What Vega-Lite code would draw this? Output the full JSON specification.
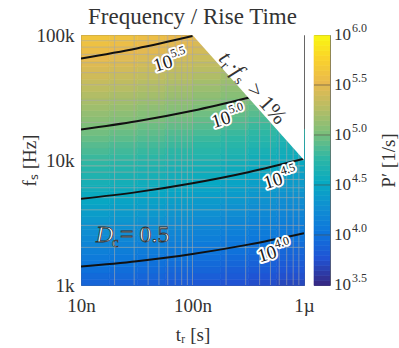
{
"$schema":"https://vega.github.io/schema/vega-lite/v6.json",
"padding":{"left":19,"top":5,"right":1,"bottom":0},
"background":"white",
"bounds":"flush",
"spacing":10,
"config":{
"font":"Liberation Serif",
"view":{"stroke":"#666","strokeWidth":1},
"axis":{"labelFont":"Liberation Serif","titleFont":"Liberation Serif","labelColor":"#333","titleColor":"#333","labelFontSize":19,"titleFontSize":19,"titleFontWeight":"normal","grid":false,"ticks":false,"domain":false},
"title":{"font":"Liberation Serif","fontSize":23,"fontWeight":"normal","color":"#333"}
},
"datasets":{
"cells":[
{"t":-8,"f":3,"p":3.88},{"t":-8,"f":3.05,"p":3.92},{"t":-8,"f":3.1,"p":3.97},{"t":-8,"f":3.15,"p":4.02},{"t":-8,"f":3.2,"p":4.06},{"t":-8,"f":3.25,"p":4.11},{"t":-8,"f":3.3,"p":4.16},{"t":-8,"f":3.35,"p":4.2},{"t":-8,"f":3.4,"p":4.25},{"t":-8,"f":3.45,"p":4.29},{"t":-8,"f":3.5,"p":4.34},{"t":-8,"f":3.55,"p":4.39},{"t":-8,"f":3.6,"p":4.43},{"t":-8,"f":3.65,"p":4.48},{"t":-8,"f":3.7,"p":4.52},{"t":-8,"f":3.75,"p":4.57},{"t":-8,"f":3.8,"p":4.61},{"t":-8,"f":3.85,"p":4.66},{"t":-8,"f":3.9,"p":4.7},{"t":-8,"f":3.95,"p":4.75},{"t":-8,"f":4,"p":4.79},{"t":-8,"f":4.05,"p":4.84},{"t":-8,"f":4.1,"p":4.88},{"t":-8,"f":4.15,"p":4.93},{"t":-8,"f":4.2,"p":4.97},{"t":-8,"f":4.25,"p":5.01},{"t":-8,"f":4.3,"p":5.06},{"t":-8,"f":4.35,"p":5.1},{"t":-8,"f":4.4,"p":5.15},{"t":-8,"f":4.45,"p":5.19},{"t":-8,"f":4.5,"p":5.23},{"t":-8,"f":4.55,"p":5.28},{"t":-8,"f":4.6,"p":5.32},{"t":-8,"f":4.65,"p":5.37},{"t":-8,"f":4.7,"p":5.41},{"t":-8,"f":4.75,"p":5.45},{"t":-8,"f":4.8,"p":5.5},{"t":-8,"f":4.85,"p":5.54},{"t":-8,"f":4.9,"p":5.58},{"t":-8,"f":4.95,"p":5.62},
{"t":-7.75,"f":3,"p":3.86},{"t":-7.75,"f":3.05,"p":3.91},{"t":-7.75,"f":3.1,"p":3.95},{"t":-7.75,"f":3.15,"p":4},{"t":-7.75,"f":3.2,"p":4.04},{"t":-7.75,"f":3.25,"p":4.09},{"t":-7.75,"f":3.3,"p":4.14},{"t":-7.75,"f":3.35,"p":4.18},{"t":-7.75,"f":3.4,"p":4.23},{"t":-7.75,"f":3.45,"p":4.27},{"t":-7.75,"f":3.5,"p":4.32},{"t":-7.75,"f":3.55,"p":4.36},{"t":-7.75,"f":3.6,"p":4.41},{"t":-7.75,"f":3.65,"p":4.45},{"t":-7.75,"f":3.7,"p":4.5},{"t":-7.75,"f":3.75,"p":4.54},{"t":-7.75,"f":3.8,"p":4.59},{"t":-7.75,"f":3.85,"p":4.63},{"t":-7.75,"f":3.9,"p":4.68},{"t":-7.75,"f":3.95,"p":4.72},{"t":-7.75,"f":4,"p":4.77},{"t":-7.75,"f":4.05,"p":4.81},{"t":-7.75,"f":4.1,"p":4.85},{"t":-7.75,"f":4.15,"p":4.9},{"t":-7.75,"f":4.2,"p":4.94},{"t":-7.75,"f":4.25,"p":4.99},{"t":-7.75,"f":4.3,"p":5.03},{"t":-7.75,"f":4.35,"p":5.07},{"t":-7.75,"f":4.4,"p":5.12},{"t":-7.75,"f":4.45,"p":5.16},{"t":-7.75,"f":4.5,"p":5.2},{"t":-7.75,"f":4.55,"p":5.25},{"t":-7.75,"f":4.6,"p":5.29},{"t":-7.75,"f":4.65,"p":5.33},{"t":-7.75,"f":4.7,"p":5.38},{"t":-7.75,"f":4.75,"p":5.42},{"t":-7.75,"f":4.8,"p":5.46},{"t":-7.75,"f":4.85,"p":5.5},{"t":-7.75,"f":4.9,"p":5.55},{"t":-7.75,"f":4.95,"p":5.59},
{"t":-7.5,"f":3,"p":3.84},{"t":-7.5,"f":3.05,"p":3.88},{"t":-7.5,"f":3.1,"p":3.93},{"t":-7.5,"f":3.15,"p":3.97},{"t":-7.5,"f":3.2,"p":4.02},{"t":-7.5,"f":3.25,"p":4.07},{"t":-7.5,"f":3.3,"p":4.11},{"t":-7.5,"f":3.35,"p":4.16},{"t":-7.5,"f":3.4,"p":4.2},{"t":-7.5,"f":3.45,"p":4.25},{"t":-7.5,"f":3.5,"p":4.29},{"t":-7.5,"f":3.55,"p":4.34},{"t":-7.5,"f":3.6,"p":4.38},{"t":-7.5,"f":3.65,"p":4.43},{"t":-7.5,"f":3.7,"p":4.47},{"t":-7.5,"f":3.75,"p":4.51},{"t":-7.5,"f":3.8,"p":4.56},{"t":-7.5,"f":3.85,"p":4.6},{"t":-7.5,"f":3.9,"p":4.65},{"t":-7.5,"f":3.95,"p":4.69},{"t":-7.5,"f":4,"p":4.73},{"t":-7.5,"f":4.05,"p":4.78},{"t":-7.5,"f":4.1,"p":4.82},{"t":-7.5,"f":4.15,"p":4.87},{"t":-7.5,"f":4.2,"p":4.91},{"t":-7.5,"f":4.25,"p":4.95},{"t":-7.5,"f":4.3,"p":5},{"t":-7.5,"f":4.35,"p":5.04},{"t":-7.5,"f":4.4,"p":5.08},{"t":-7.5,"f":4.45,"p":5.13},{"t":-7.5,"f":4.5,"p":5.17},{"t":-7.5,"f":4.55,"p":5.21},{"t":-7.5,"f":4.6,"p":5.25},{"t":-7.5,"f":4.65,"p":5.3},{"t":-7.5,"f":4.7,"p":5.34},{"t":-7.5,"f":4.75,"p":5.38},{"t":-7.5,"f":4.8,"p":5.42},{"t":-7.5,"f":4.85,"p":5.47},{"t":-7.5,"f":4.9,"p":5.51},{"t":-7.5,"f":4.95,"p":5.55},
{"t":-7.25,"f":3,"p":3.81},{"t":-7.25,"f":3.05,"p":3.86},{"t":-7.25,"f":3.1,"p":3.9},{"t":-7.25,"f":3.15,"p":3.95},{"t":-7.25,"f":3.2,"p":3.99},{"t":-7.25,"f":3.25,"p":4.04},{"t":-7.25,"f":3.3,"p":4.08},{"t":-7.25,"f":3.35,"p":4.13},{"t":-7.25,"f":3.4,"p":4.17},{"t":-7.25,"f":3.45,"p":4.22},{"t":-7.25,"f":3.5,"p":4.26},{"t":-7.25,"f":3.55,"p":4.31},{"t":-7.25,"f":3.6,"p":4.35},{"t":-7.25,"f":3.65,"p":4.4},{"t":-7.25,"f":3.7,"p":4.44},{"t":-7.25,"f":3.75,"p":4.48},{"t":-7.25,"f":3.8,"p":4.53},{"t":-7.25,"f":3.85,"p":4.57},{"t":-7.25,"f":3.9,"p":4.61},{"t":-7.25,"f":3.95,"p":4.66},{"t":-7.25,"f":4,"p":4.7},{"t":-7.25,"f":4.05,"p":4.74},{"t":-7.25,"f":4.1,"p":4.79},{"t":-7.25,"f":4.15,"p":4.83},{"t":-7.25,"f":4.2,"p":4.87},{"t":-7.25,"f":4.25,"p":4.92},{"t":-7.25,"f":4.3,"p":4.96},{"t":-7.25,"f":4.35,"p":5},{"t":-7.25,"f":4.4,"p":5.05},{"t":-7.25,"f":4.45,"p":5.09},{"t":-7.25,"f":4.5,"p":5.13},{"t":-7.25,"f":4.55,"p":5.17},{"t":-7.25,"f":4.6,"p":5.22},{"t":-7.25,"f":4.65,"p":5.26},{"t":-7.25,"f":4.7,"p":5.3},{"t":-7.25,"f":4.75,"p":5.34},{"t":-7.25,"f":4.8,"p":5.38},{"t":-7.25,"f":4.85,"p":5.43},{"t":-7.25,"f":4.9,"p":5.47},{"t":-7.25,"f":4.95,"p":5.51},
{"t":-7,"f":3,"p":3.79},{"t":-7,"f":3.05,"p":3.83},{"t":-7,"f":3.1,"p":3.88},{"t":-7,"f":3.15,"p":3.92},{"t":-7,"f":3.2,"p":3.96},{"t":-7,"f":3.25,"p":4.01},{"t":-7,"f":3.3,"p":4.05},{"t":-7,"f":3.35,"p":4.1},{"t":-7,"f":3.4,"p":4.14},{"t":-7,"f":3.45,"p":4.19},{"t":-7,"f":3.5,"p":4.23},{"t":-7,"f":3.55,"p":4.27},{"t":-7,"f":3.6,"p":4.32},{"t":-7,"f":3.65,"p":4.36},{"t":-7,"f":3.7,"p":4.41},{"t":-7,"f":3.75,"p":4.45},{"t":-7,"f":3.8,"p":4.49},{"t":-7,"f":3.85,"p":4.54},{"t":-7,"f":3.9,"p":4.58},{"t":-7,"f":3.95,"p":4.62},{"t":-7,"f":4,"p":4.67},{"t":-7,"f":4.05,"p":4.71},{"t":-7,"f":4.1,"p":4.75},{"t":-7,"f":4.15,"p":4.79},{"t":-7,"f":4.2,"p":4.84},{"t":-7,"f":4.25,"p":4.88},{"t":-7,"f":4.3,"p":4.92},{"t":-7,"f":4.35,"p":4.96},{"t":-7,"f":4.4,"p":5.01},{"t":-7,"f":4.45,"p":5.05},{"t":-7,"f":4.5,"p":5.09},{"t":-7,"f":4.55,"p":5.13},{"t":-7,"f":4.6,"p":5.17},{"t":-7,"f":4.65,"p":5.22},{"t":-7,"f":4.7,"p":5.26},{"t":-7,"f":4.75,"p":5.3},{"t":-7,"f":4.8,"p":5.34},{"t":-7,"f":4.85,"p":5.38},{"t":-7,"f":4.9,"p":5.42},{"t":-7,"f":4.95,"p":5.46},
{"t":-6.75,"f":3,"p":3.75},{"t":-6.75,"f":3.05,"p":3.8},{"t":-6.75,"f":3.1,"p":3.84},{"t":-6.75,"f":3.15,"p":3.89},{"t":-6.75,"f":3.2,"p":3.93},{"t":-6.75,"f":3.25,"p":3.98},{"t":-6.75,"f":3.3,"p":4.02},{"t":-6.75,"f":3.35,"p":4.06},{"t":-6.75,"f":3.4,"p":4.11},{"t":-6.75,"f":3.45,"p":4.15},{"t":-6.75,"f":3.5,"p":4.19},{"t":-6.75,"f":3.55,"p":4.24},{"t":-6.75,"f":3.6,"p":4.28},{"t":-6.75,"f":3.65,"p":4.33},{"t":-6.75,"f":3.7,"p":4.37},{"t":-6.75,"f":3.75,"p":4.41},{"t":-6.75,"f":3.8,"p":4.45},{"t":-6.75,"f":3.85,"p":4.5},{"t":-6.75,"f":3.9,"p":4.54},{"t":-6.75,"f":3.95,"p":4.58},{"t":-6.75,"f":4,"p":4.63},{"t":-6.75,"f":4.05,"p":4.67},{"t":-6.75,"f":4.1,"p":4.71},{"t":-6.75,"f":4.15,"p":4.75},{"t":-6.75,"f":4.2,"p":4.79},{"t":-6.75,"f":4.25,"p":4.84},{"t":-6.75,"f":4.3,"p":4.88},{"t":-6.75,"f":4.35,"p":4.92},{"t":-6.75,"f":4.4,"p":4.96},{"t":-6.75,"f":4.45,"p":5},{"t":-6.75,"f":4.5,"p":5.05},{"t":-6.75,"f":4.55,"p":5.09},{"t":-6.75,"f":4.6,"p":5.13},{"t":-6.75,"f":4.65,"p":5.17},{"t":-6.75,"f":4.7,"p":5.21},
{"t":-6.5,"f":3,"p":3.72},{"t":-6.5,"f":3.05,"p":3.76},{"t":-6.5,"f":3.1,"p":3.81},{"t":-6.5,"f":3.15,"p":3.85},{"t":-6.5,"f":3.2,"p":3.9},{"t":-6.5,"f":3.25,"p":3.94},{"t":-6.5,"f":3.3,"p":3.98},{"t":-6.5,"f":3.35,"p":4.03},{"t":-6.5,"f":3.4,"p":4.07},{"t":-6.5,"f":3.45,"p":4.11},{"t":-6.5,"f":3.5,"p":4.16},{"t":-6.5,"f":3.55,"p":4.2},{"t":-6.5,"f":3.6,"p":4.24},{"t":-6.5,"f":3.65,"p":4.29},{"t":-6.5,"f":3.7,"p":4.33},{"t":-6.5,"f":3.75,"p":4.37},{"t":-6.5,"f":3.8,"p":4.41},{"t":-6.5,"f":3.85,"p":4.46},{"t":-6.5,"f":3.9,"p":4.5},{"t":-6.5,"f":3.95,"p":4.54},{"t":-6.5,"f":4,"p":4.58},{"t":-6.5,"f":4.05,"p":4.62},{"t":-6.5,"f":4.1,"p":4.67},{"t":-6.5,"f":4.15,"p":4.71},{"t":-6.5,"f":4.2,"p":4.75},{"t":-6.5,"f":4.25,"p":4.79},{"t":-6.5,"f":4.3,"p":4.83},{"t":-6.5,"f":4.35,"p":4.88},{"t":-6.5,"f":4.4,"p":4.92},{"t":-6.5,"f":4.45,"p":4.96},
{"t":-6.25,"f":3,"p":3.68},{"t":-6.25,"f":3.05,"p":3.73},{"t":-6.25,"f":3.1,"p":3.77},{"t":-6.25,"f":3.15,"p":3.81},{"t":-6.25,"f":3.2,"p":3.86},{"t":-6.25,"f":3.25,"p":3.9},{"t":-6.25,"f":3.3,"p":3.94},{"t":-6.25,"f":3.35,"p":3.99},{"t":-6.25,"f":3.4,"p":4.03},{"t":-6.25,"f":3.45,"p":4.07},{"t":-6.25,"f":3.5,"p":4.12},{"t":-6.25,"f":3.55,"p":4.16},{"t":-6.25,"f":3.6,"p":4.2},{"t":-6.25,"f":3.65,"p":4.24},{"t":-6.25,"f":3.7,"p":4.29},{"t":-6.25,"f":3.75,"p":4.33},{"t":-6.25,"f":3.8,"p":4.37},{"t":-6.25,"f":3.85,"p":4.41},{"t":-6.25,"f":3.9,"p":4.45},{"t":-6.25,"f":3.95,"p":4.5},{"t":-6.25,"f":4,"p":4.54},{"t":-6.25,"f":4.05,"p":4.58},{"t":-6.25,"f":4.1,"p":4.62},{"t":-6.25,"f":4.15,"p":4.66},{"t":-6.25,"f":4.2,"p":4.7}
],
"gx":[{"t":-7.699},{"t":-7.523},{"t":-7.398},{"t":-7.301},{"t":-7.222},{"t":-7.155},{"t":-7.097},{"t":-7.046},{"t":-7},{"t":-6.699},{"t":-6.523},{"t":-6.398},{"t":-6.301},{"t":-6.222},{"t":-6.155},{"t":-6.097},{"t":-6.046}],
"gy":[{"f":3.301},{"f":3.477},{"f":3.602},{"f":3.699},{"f":3.778},{"f":3.845},{"f":3.903},{"f":3.954},{"f":4},{"f":4.301},{"f":4.477},{"f":4.602},{"f":4.699},{"f":4.778},{"f":4.845},{"f":4.903},{"f":4.954}],
"contours":[
{"lv":"4.0","t":-8,"f":3.147},{"lv":"4.0","t":-7.5,"f":3.19},{"lv":"4.0","t":-7,"f":3.248},{"lv":"4.0","t":-6.5,"f":3.323},{"lv":"4.0","t":-6,"f":3.415},
{"lv":"4.5","t":-8,"f":3.689},{"lv":"4.5","t":-7.5,"f":3.743},{"lv":"4.5","t":-7,"f":3.814},{"lv":"4.5","t":-6.5,"f":3.902},{"lv":"4.5","t":-6,"f":4.01},
{"lv":"5.0","t":-8,"f":4.244},{"lv":"5.0","t":-7.5,"f":4.31},{"lv":"5.0","t":-7,"f":4.394},{"lv":"5.0","t":-6.5,"f":4.498},{"lv":"5.0","t":-6.45,"f":4.509},
{"lv":"5.5","t":-8,"f":4.8125},{"lv":"5.5","t":-7.5,"f":4.8925},{"lv":"5.5","t":-7,"f":4.9915}
],
"limit":[{"t":-7,"f":5},{"t":-6,"f":4}],
"clab":[{"t":-7.265,"f":4.772,"e":"5.5"},{"t":-6.744,"f":4.323,"e":"5.0"},{"t":-6.278,"f":3.834,"e":"4.5"},{"t":-6.332,"f":3.248,"e":"4.0"}],
"dc":[{"t":-7.865,"f":3.401}],
"ltxt":[{"t":-6.726,"f":4.844}],
"cbar":[{"cb":3.5},{"cb":3.55},{"cb":3.6},{"cb":3.65},{"cb":3.7},{"cb":3.75},{"cb":3.8},{"cb":3.85},{"cb":3.9},{"cb":3.95},{"cb":4},{"cb":4.05},{"cb":4.1},{"cb":4.15},{"cb":4.2},{"cb":4.25},{"cb":4.3},{"cb":4.35},{"cb":4.4},{"cb":4.45},{"cb":4.5},{"cb":4.55},{"cb":4.6},{"cb":4.65},{"cb":4.7},{"cb":4.75},{"cb":4.8},{"cb":4.85},{"cb":4.9},{"cb":4.95},{"cb":5},{"cb":5.05},{"cb":5.1},{"cb":5.15},{"cb":5.2},{"cb":5.25},{"cb":5.3},{"cb":5.35},{"cb":5.4},{"cb":5.45},{"cb":5.5},{"cb":5.55},{"cb":5.6},{"cb":5.65},{"cb":5.7},{"cb":5.75},{"cb":5.8},{"cb":5.85},{"cb":5.9},{"cb":5.95}],
"cbt":[{"cb":4},{"cb":4.5},{"cb":5},{"cb":5.5}],
"cbl":[{"cb":3.5,"e":"3.5"},{"cb":4,"e":"4.0"},{"cb":4.5,"e":"4.5"},{"cb":5,"e":"5.0"},{"cb":5.5,"e":"5.5"},{"cb":6,"e":"6.0"}]
},
"hconcat":[
{
"width":223,"height":250,
"title":{"text":"Frequency / Rise Time","anchor":"middle","offset":-3},
"layer":[
{"data":{"name":"cells"},"mark":{"type":"rect","strokeWidth":0.6},
"encoding":{
"x":{"field":"t","type":"quantitative","bin":{"binned":true,"step":0.25},"scale":{"domain":[-8,-6],"nice":false,"zero":false},
"axis":{"values":[-8,-7,-6],"labelExpr":"datum.value == -8 ? '10n' : datum.value == -7 ? '100n' : '1µ'","labelFlush":false,"labelPadding":11,"title":"tᵣ [s]","titlePadding":10}},
"y":{"field":"f","type":"quantitative","bin":{"binned":true,"step":0.05},"scale":{"domain":[3,5],"nice":false,"zero":false},
"axis":{"values":[3,4,5],"labelExpr":"datum.value == 3 ? '1k' : datum.value == 4 ? '10k' : '100k'","labelFlush":false,"labelPadding":7,"title":"fₛ [Hz]","titlePadding":-3}},
"color":{"field":"p","type":"quantitative","legend":null,"scale":{"domain":[3.5,3.75,4,4.25,4.5,4.75,5,5.25,5.5,5.75,6],"range":["#352A87","#2053D4","#0D75DC","#108ED2","#07A9C2","#2EB7A4","#7CBF7B","#B7BD64","#E9B94E","#FAD32A","#F9FB0E"],"interpolate":"rgb","zero":false}},
"stroke":{"field":"p","type":"quantitative","legend":null,"scale":{"domain":[3.5,3.75,4,4.25,4.5,4.75,5,5.25,5.5,5.75,6],"range":["#352A87","#2053D4","#0D75DC","#108ED2","#07A9C2","#2EB7A4","#7CBF7B","#B7BD64","#E9B94E","#FAD32A","#F9FB0E"],"interpolate":"rgb","zero":false}}
}},
{"data":{"name":"gx"},"mark":{"type":"rule","color":"#a8a8a8","opacity":0.6,"strokeWidth":1},"encoding":{"x":{"field":"t","type":"quantitative"}}},
{"data":{"name":"gy"},"mark":{"type":"rule","color":"#a8a8a8","opacity":0.6,"strokeWidth":1},"encoding":{"y":{"field":"f","type":"quantitative"}}},
{"data":{"name":"contours"},"mark":{"type":"line","color":"#111","strokeWidth":2,"interpolate":"monotone","clip":true},
"encoding":{"x":{"field":"t","type":"quantitative"},"y":{"field":"f","type":"quantitative"},"detail":{"field":"lv"}}},
{"data":{"name":"limit"},"mark":{"type":"area","color":"white","opacity":1},
"encoding":{"x":{"field":"t","type":"quantitative"},"y":{"field":"f","type":"quantitative"},"y2":{"datum":5}}},
{"data":{"name":"clab"},"mark":{"type":"text","text":"10","fontSize":19,"angle":-17,"align":"center","baseline":"middle","color":"white","stroke":"white","strokeWidth":4,"strokeJoin":"round"},
"encoding":{"x":{"field":"t","type":"quantitative"},"y":{"field":"f","type":"quantitative"}}},
{"data":{"name":"clab"},"mark":{"type":"text","fontSize":12,"angle":-17,"align":"left","baseline":"middle","dx":10,"dy":-7,"color":"white","stroke":"white","strokeWidth":4,"strokeJoin":"round"},
"encoding":{"x":{"field":"t","type":"quantitative"},"y":{"field":"f","type":"quantitative"},"text":{"field":"e"}}},
{"data":{"name":"clab"},"mark":{"type":"text","text":"10","fontSize":19,"angle":-17,"align":"center","baseline":"middle","color":"#1a1a1a"},
"encoding":{"x":{"field":"t","type":"quantitative"},"y":{"field":"f","type":"quantitative"}}},
{"data":{"name":"clab"},"mark":{"type":"text","fontSize":12,"angle":-17,"align":"left","baseline":"middle","dx":10,"dy":-7,"color":"#1a1a1a"},
"encoding":{"x":{"field":"t","type":"quantitative"},"y":{"field":"f","type":"quantitative"},"text":{"field":"e"}}},
{"data":{"name":"dc"},"mark":{"type":"text","text":"D","fontSize":24,"fontStyle":"italic","align":"left","baseline":"middle","color":"white","stroke":"#333","strokeWidth":0.8},
"encoding":{"x":{"field":"t","type":"quantitative"},"y":{"field":"f","type":"quantitative"}}},
{"data":{"name":"dc"},"mark":{"type":"text","text":"c","fontSize":15,"align":"left","baseline":"middle","dx":16,"dy":7,"color":"white","stroke":"#333","strokeWidth":0.7},
"encoding":{"x":{"field":"t","type":"quantitative"},"y":{"field":"f","type":"quantitative"}}},
{"data":{"name":"dc"},"mark":{"type":"text","text":"= 0.5","fontSize":24,"align":"left","baseline":"middle","dx":24,"color":"white","stroke":"#333","strokeWidth":0.8},
"encoding":{"x":{"field":"t","type":"quantitative"},"y":{"field":"f","type":"quantitative"}}},
{"data":{"name":"ltxt"},"mark":{"type":"text","text":"t","fontSize":22,"fontStyle":"italic","angle":48,"align":"left","baseline":"middle","color":"#333"},
"encoding":{"x":{"field":"t","type":"quantitative"},"y":{"field":"f","type":"quantitative"}}},
{"data":{"name":"ltxt"},"mark":{"type":"text","text":"r","fontSize":14,"angle":48,"align":"left","baseline":"middle","dx":7,"dy":6,"color":"#333"},
"encoding":{"x":{"field":"t","type":"quantitative"},"y":{"field":"f","type":"quantitative"}}},
{"data":{"name":"ltxt"},"mark":{"type":"text","text":"·","fontSize":22,"angle":48,"align":"left","baseline":"middle","dx":13,"color":"#333"},
"encoding":{"x":{"field":"t","type":"quantitative"},"y":{"field":"f","type":"quantitative"}}},
{"data":{"name":"ltxt"},"mark":{"type":"text","text":"f","fontSize":22,"fontStyle":"italic","angle":48,"align":"left","baseline":"middle","dx":19,"color":"#333"},
"encoding":{"x":{"field":"t","type":"quantitative"},"y":{"field":"f","type":"quantitative"}}},
{"data":{"name":"ltxt"},"mark":{"type":"text","text":"s","fontSize":14,"angle":48,"align":"left","baseline":"middle","dx":27,"dy":6,"color":"#333"},
"encoding":{"x":{"field":"t","type":"quantitative"},"y":{"field":"f","type":"quantitative"}}},
{"data":{"name":"ltxt"},"mark":{"type":"text","text":"> 1%","fontSize":22,"angle":48,"align":"left","baseline":"middle","dx":42,"color":"#333"},
"encoding":{"x":{"field":"t","type":"quantitative"},"y":{"field":"f","type":"quantitative"}}}
]
},
{
"width":16,"height":250,
"layer":[
{"data":{"name":"cbar"},"mark":{"type":"rect","strokeWidth":0.6},
"encoding":{
"y":{"field":"cb","type":"quantitative","bin":{"binned":true,"step":0.05},"scale":{"domain":[3.5,6],"nice":false,"zero":false},
"axis":{"orient":"right","labels":false,"title":"P′ [1/s]","titlePadding":68,"titleAngle":270}},
"color":{"field":"cb","type":"quantitative","legend":null,"scale":{"domain":[3.5,3.75,4,4.25,4.5,4.75,5,5.25,5.5,5.75,6],"range":["#352A87","#2053D4","#0D75DC","#108ED2","#07A9C2","#2EB7A4","#7CBF7B","#B7BD64","#E9B94E","#FAD32A","#F9FB0E"],"interpolate":"rgb","zero":false}},
"stroke":{"field":"cb","type":"quantitative","legend":null,"scale":{"domain":[3.5,3.75,4,4.25,4.5,4.75,5,5.25,5.5,5.75,6],"range":["#352A87","#2053D4","#0D75DC","#108ED2","#07A9C2","#2EB7A4","#7CBF7B","#B7BD64","#E9B94E","#FAD32A","#F9FB0E"],"interpolate":"rgb","zero":false}}
}},
{"data":{"name":"cbt"},"mark":{"type":"rule","color":"#444","opacity":0.6,"strokeWidth":1},"encoding":{"y":{"field":"cb","type":"quantitative"}}},
{"data":{"name":"cbl"},"mark":{"type":"text","text":"10","fontSize":17,"align":"left","baseline":"middle","dx":12,"color":"#333"},
"encoding":{"y":{"field":"cb","type":"quantitative"}}},
{"data":{"name":"cbl"},"mark":{"type":"text","fontSize":12,"align":"left","baseline":"middle","dx":30,"dy":-7,"color":"#333"},
"encoding":{"y":{"field":"cb","type":"quantitative"},"text":{"field":"e"}}}
]
}
]
}
